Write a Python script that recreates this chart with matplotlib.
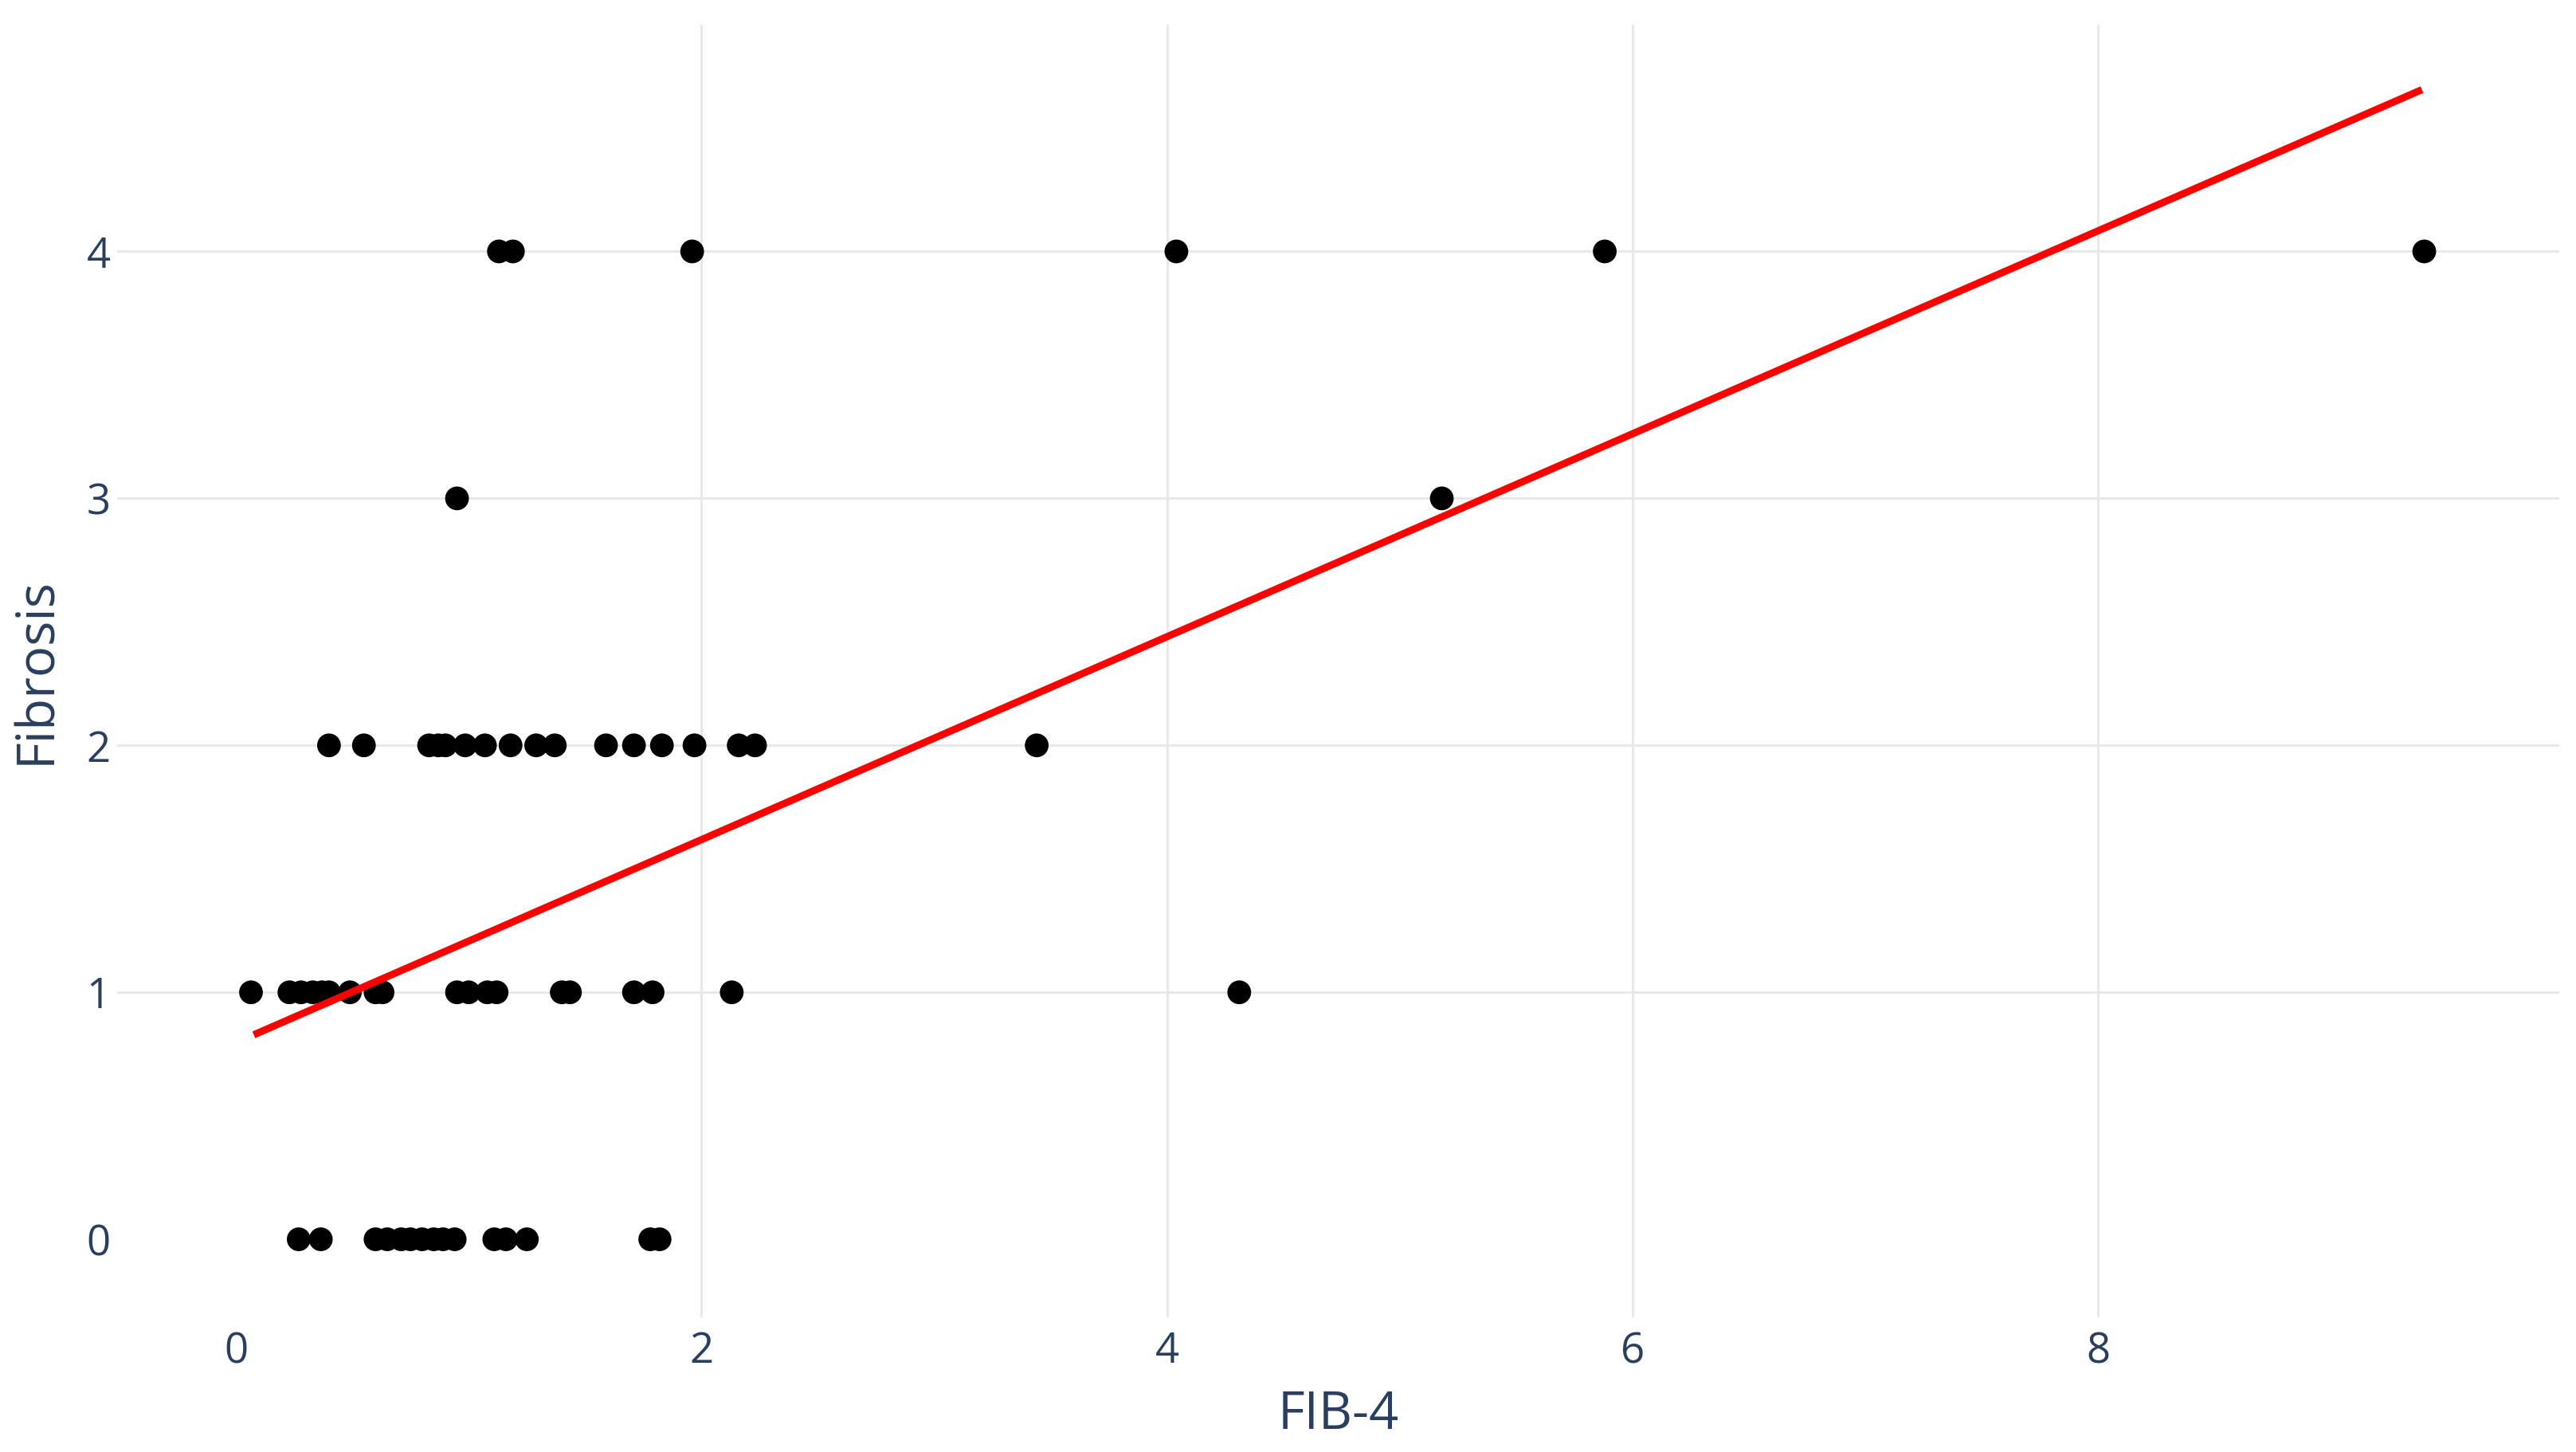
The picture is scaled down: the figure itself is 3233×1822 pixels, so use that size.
import matplotlib
matplotlib.use("Agg")
import matplotlib.pyplot as plt
import numpy as np

# ---- data ----
fib4_grade0 = [0.27, 0.365, 0.60, 0.65, 0.71, 0.75, 0.80, 0.85, 0.89, 0.94, 1.11, 1.16, 1.25, 1.78, 1.82]
fib4_grade1 = [0.065, 0.23, 0.28, 0.33, 0.37, 0.40, 0.49, 0.60, 0.63, 0.95, 1.00, 1.08, 1.12,
               1.40, 1.435, 1.71, 1.79, 2.13, 4.31]
fib4_grade2 = [0.40, 0.55, 0.83, 0.87, 0.90, 0.985, 1.07, 1.18, 1.29, 1.37, 1.59, 1.71, 1.83,
               1.97, 2.16, 2.23, 3.44]
fib4_grade3 = [0.95, 5.18]
fib4_grade4 = [1.13, 1.19, 1.96, 4.04, 5.88, 9.40]
grades = [0, 1, 2, 3, 4]

trend_x = [0.077, 9.39]
trend_y = [0.828, 4.655]

x_ticks = [0, 2, 4, 6, 8]
y_ticks = [0, 1, 2, 3, 4]
x_label = "FIB-4"
y_label = "Fibrosis"

groups = [fib4_grade0, fib4_grade1, fib4_grade2, fib4_grade3, fib4_grade4]
xs = np.concatenate([np.asarray(g, float) for g in groups])
ys = np.concatenate([np.full(len(g), grd, float) for g, grd in zip(groups, grades)])

# ---- figure ----
W, H, DPI = 3233, 1822, 100
fig = plt.figure(figsize=(W / DPI, H / DPI), dpi=DPI)
fig.patch.set_facecolor("white")
left, right = 147 / W, 3212 / W
bottom, top = 1 - 1653 / H, 1 - 31 / H
ax = fig.add_axes([left, bottom, right - left, top - bottom])
ax.set_facecolor("white")

txt_color = "#2a3f5f"
grid_color = "#e8e8e8"
font = ["Open Sans", "DejaVu Sans"]

ax.set_xlim(-0.51, 9.98)
ax.set_ylim(-0.316, 4.918)

for xv in x_ticks:
    if xv != 0:
        ax.axvline(xv, color=grid_color, lw=2.2, zorder=0)
for yv in y_ticks:
    if yv != 0:
        ax.axhline(yv, color=grid_color, lw=2.2, zorder=0)

ax.scatter(xs, ys, s=460, color="black", edgecolors="none", zorder=2)
ax.plot(trend_x, trend_y, color="#ff0000", lw=6.5, solid_capstyle="butt", zorder=3)

for s in ax.spines.values():
    s.set_visible(False)

ax.set_xticks(x_ticks)
ax.set_yticks(y_ticks)
ax.set_xticklabels([str(v) for v in x_ticks], fontsize=38, color=txt_color, family=font)
ax.set_yticklabels([str(v) for v in y_ticks], fontsize=38, color=txt_color, family=font)
ax.tick_params(axis="both", length=0)
ax.tick_params(axis="x", pad=12)
ax.tick_params(axis="y", pad=6)

ax.set_xlabel(x_label, fontsize=47, color=txt_color, family=font, labelpad=14)
ax.set_ylabel(y_label, fontsize=47, color=txt_color, family=font, labelpad=21)

fig.savefig("out.png", dpi=DPI, facecolor="white")
